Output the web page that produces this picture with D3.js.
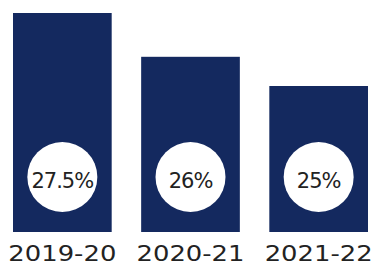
<!DOCTYPE html>
<html>
<head>
<meta charset="utf-8">
<script src="https://cdn.jsdelivr.net/npm/d3@7"></script>
<style>
  body { margin: 0; background: #fff; }
  svg { display: block; }
</style>
</head>
<body>
<svg id="chart" width="372" height="278"></svg>
<script>
// chart data
const years = ["2019-20", "2020-21", "2021-22"];
const values = [27.5, 26, 25];
const valueLabels = ["27.5%", "26%", "25%"];

const width = 372, height = 278;
const svg = d3.select("#chart");

// bars start from 20 in the original, not from zero
const xScale = d3.scaleBand()
    .domain(years)
    .range([13, 368])
    .paddingInner(0.23)
    .paddingOuter(0);

const yScale = d3.scaleLinear()
    .domain([20, 27.5])
    .range([232, 13]);

const data = years.map((y, i) => ({ year: y, value: values[i], label: valueLabels[i] }));

// bars
svg.selectAll("rect.bar")
    .data(data)
    .enter()
    .append("rect")
    .attr("class", "bar")
    .attr("x", d => xScale(d.year))
    .attr("y", d => yScale(d.value))
    .attr("width", xScale.bandwidth())
    .attr("height", d => yScale.range()[0] - yScale(d.value))
    .attr("fill", "#14295f");

// white circles with the percentages
svg.selectAll("circle.badge")
    .data(data)
    .enter()
    .append("circle")
    .attr("class", "badge")
    .attr("cx", d => xScale(d.year) + xScale.bandwidth() / 2)
    .attr("cy", 177)
    .attr("r", 35)
    .attr("fill", "#fff");

svg.selectAll("text.pct")
    .data(data)
    .enter()
    .append("text")
    .attr("class", "pct")
    .attr("x", d => xScale(d.year) + xScale.bandwidth() / 2)
    .attr("y", 188)
    .attr("text-anchor", "middle")
    .attr("font-family", "DejaVu Sans")
    .attr("font-size", "21px")
    .attr("fill", "#222")
    .attr("letter-spacing", "-1px")
    .text(d => d.label);

// category axis
const xAxis = svg.append("g")
    .attr("transform", "translate(0, 232)")
    .call(d3.axisBottom(xScale).tickSize(0).tickPadding(13));

xAxis.select(".domain").remove();
xAxis.selectAll("text")
    .attr("font-family", "DejaVu Sans")
    .attr("font-size", "22px")
    .attr("fill", "#222")
    .attr("textLength", 108)
    .attr("lengthAdjust", "spacingAndGlyphs");
</script>
</body>
</html>
